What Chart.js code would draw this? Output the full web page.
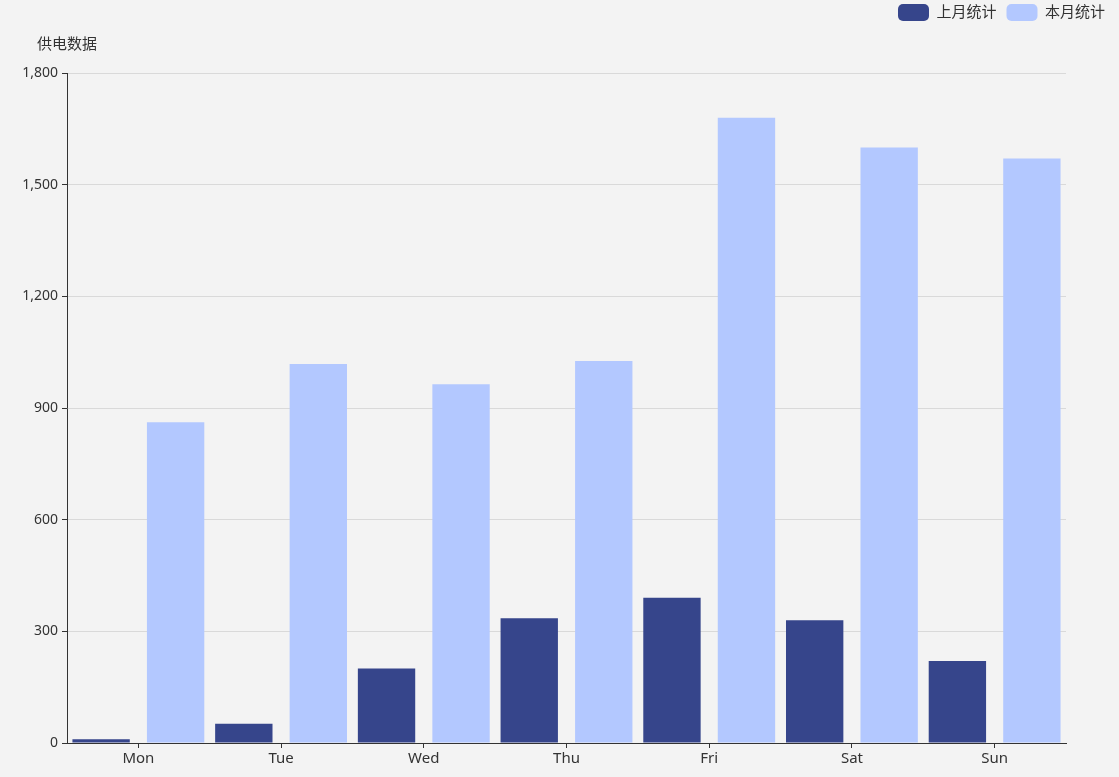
<!DOCTYPE html>
<html>
<head>
<meta charset="utf-8">
<script src="https://cdn.jsdelivr.net/npm/chart.js@4/dist/chart.umd.min.js"></script>
<style>
  html, body { margin: 0; padding: 0; background: #f3f3f3; }
  #wrap { width: 1119px; height: 777px; position: relative; }
</style>
</head>
<body>
<div id="wrap"><canvas id="canvas_power"></canvas></div>
<script>
// 数据
var days = ['Mon', 'Tue', 'Wed', 'Thu', 'Fri', 'Sat', 'Sun'];
var lastMonth = [10, 52, 200, 335, 390, 330, 220];
var thisMonth = [862, 1018, 964, 1026, 1680, 1600, 1570];
var seriesNames = ['上月统计', '本月统计'];
var yAxisName = '供电数据';

var fontFam = '"Noto Sans", "Noto Sans CJK SC", sans-serif';

// 背景色
var bgPlugin = {
	id: 'bgFill',
	beforeDraw: function (chart) {
		var ctx = chart.ctx;
		ctx.save();
		ctx.fillStyle = '#f3f3f3';
		ctx.fillRect(0, 0, chart.width, chart.height);
		ctx.restore();
	}
};

// y 轴名称 (画在轴顶上方)
var axisNamePlugin = {
	id: 'axisName',
	afterDraw: function (chart) {
		var ctx = chart.ctx;
		var area = chart.chartArea;
		ctx.save();
		ctx.font = '15px ' + fontFam;
		ctx.fillStyle = '#333';
		ctx.textAlign = 'center';
		ctx.textBaseline = 'middle';
		ctx.fillText(yAxisName, area.left, area.top - 28);
		ctx.restore();
	}
};

// 图例高度固定
var legendHeightPlugin = {
	id: 'legendHeight',
	beforeLayout: function (chart) {
		var lg = chart.legend;
		if (lg && !lg._patched) {
			var origFit = lg.fit;
			lg.fit = function () {
				origFit.call(this);
				this.height = 79;
			};
			lg._patched = true;
		}
	}
};

var configPower = {
	type: 'bar',
	data: {
		labels: days,
		datasets: [{
			label: seriesNames[0],
			data: lastMonth,
			backgroundColor: '#36458b',
			borderWidth: 0,
			categoryPercentage: 1.044,
			barPercentage: 0.77
		}, {
			label: seriesNames[1],
			data: thisMonth,
			backgroundColor: '#b3c8ff',
			borderWidth: 0,
			categoryPercentage: 1.044,
			barPercentage: 0.77
		}]
	},
	options: {
		responsive: true,
		maintainAspectRatio: false,
		animation: false,
		layout: { padding: { top: -6, right: 4, bottom: 0, left: 0 } },
		plugins: {
			legend: {
				position: 'top',
				align: 'end',
				labels: {
					boxWidth: 31,
					boxHeight: 17,
					padding: 10,
					useBorderRadius: true,
					borderRadius: 5,
					color: '#333',
					font: { size: 15, family: fontFam }
				}
			},
			tooltip: { enabled: false }
		},
		scales: {
			x: {
				afterFit: function (s) { s.height = 34; },
				grid: {
					display: true,
					drawOnChartArea: false,
					drawTicks: true,
					offset: false,
					tickLength: 5,
					tickColor: '#333'
				},
				border: { color: '#333', width: 1 },
				ticks: {
					color: '#333',
					padding: 2,
					font: { size: 15, family: fontFam }
				}
			},
			y: {
				min: 0,
				max: 1800,
				afterFit: function (s) { s.width = 67; },
				ticks: {
					stepSize: 300,
					color: '#333',
					padding: 4,
					font: { size: 14, family: fontFam }
				},
				grid: {
					color: '#d9d9d9',
					tickColor: '#333',
					tickLength: 5
				},
				border: { color: '#333', width: 1 }
			},
			yRight: {
				position: 'right',
				display: true,
				afterFit: function (s) { s.width = 49; },
				grid: { display: false, drawTicks: false },
				border: { display: false },
				ticks: { display: false }
			}
		}
	},
	plugins: [bgPlugin, axisNamePlugin, legendHeightPlugin]
};

var ctxPower = document.getElementById('canvas_power').getContext('2d');
new Chart(ctxPower, configPower);
</script>
</body>
</html>
